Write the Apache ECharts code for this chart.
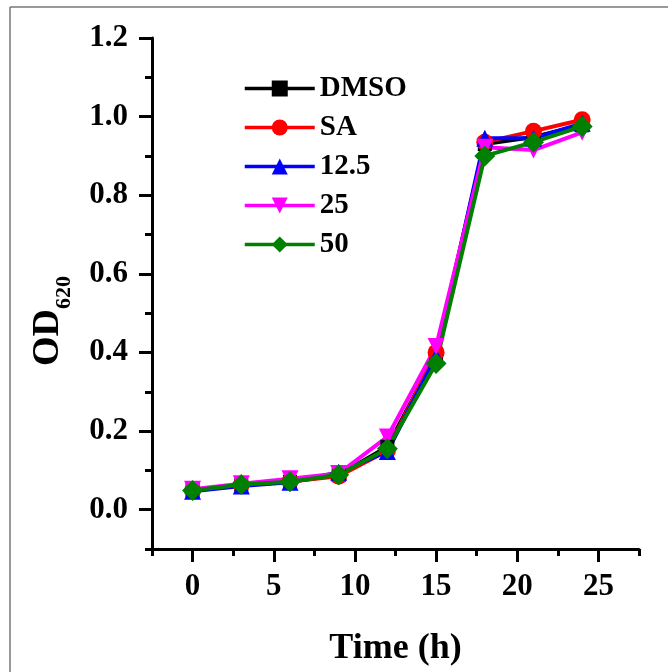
<!DOCTYPE html>
<html>
<head>
<meta charset="utf-8">
<script src="https://cdn.jsdelivr.net/npm/echarts@6/dist/echarts.min.js"></script>
<style>
  html, body { margin: 0; padding: 0; background: #fff; }
  #chart { width: 668px; height: 672px; }
</style>
</head>
<body>
<!--容器-->
<div id="chart"></div>
<script>
// 时间点 (h)
var hours = [0, 3, 6, 9, 12, 15, 18, 21, 24];
// 各组 OD620
var dmso = [0.050, 0.062, 0.071, 0.088, 0.160, 0.395, 0.930, 0.948, 0.978];
var sa = [0.049, 0.063, 0.072, 0.085, 0.150, 0.400, 0.935, 0.963, 0.992];
var c125 = [0.047, 0.060, 0.070, 0.095, 0.148, 0.390, 0.945, 0.945, 0.983];
var c25 = [0.052, 0.066, 0.079, 0.092, 0.185, 0.415, 0.922, 0.915, 0.960];
var c50 = [0.049, 0.064, 0.071, 0.089, 0.155, 0.372, 0.900, 0.935, 0.975];
var seriesNames = ["DMSO", "SA", "12.5", "25", "50"];
// 刻度
var xTicks = [0, 5, 10, 15, 20, 25];
var xMinorTicks = [-2.5, 2.5, 7.5, 12.5, 17.5, 22.5, 27.5];
var yTicks = [0, 0.2, 0.4, 0.6, 0.8, 1.0, 1.2];
var yMinorTicks = [-0.1, 0.1, 0.3, 0.5, 0.7, 0.9, 1.1];

var font = "Liberation Serif";
var myChart = echarts.init(document.getElementById("chart"));

function pairs(vals) {
  return hours.map(function (h, i) { return [h, vals[i]]; });
}

function lineSeries(name, vals, color, symbol, size, rotate) {
  return {
    name: name,
    type: "line",
    xAxisIndex: 0,
    yAxisIndex: 0,
    data: pairs(vals),
    symbol: symbol,
    symbolSize: size,
    symbolRotate: rotate || 0,
    showAllSymbol: true,
    itemStyle: { color: color },
    lineStyle: { color: color, width: 4 },
    emphasis: { disabled: true }
  };
}

var axisLineStyle = { color: "#000", width: 3 };

var option = {
  animation: false,
  backgroundColor: "#fff",
  grid: { left: 152, right: 29, top: 38, bottom: 122 },
  legend: {
    data: seriesNames,
    orient: "vertical",
    left: 243,
    top: 74,
    padding: 0,
    itemWidth: 70,
    itemHeight: 20,
    itemGap: 10,
    lineStyle: { width: 3.5 },
    textStyle: { fontFamily: font, fontWeight: "bold", fontSize: 29, lineHeight: 28, color: "#000" }
  },
  xAxis: [
    {
      type: "value",
      min: -2.5,
      max: 27.5,
      position: "bottom",
      name: "Time (h)",
      nameLocation: "middle",
      nameGap: 82,
      nameTextStyle: { fontFamily: font, fontWeight: "bold", fontSize: 36, color: "#000" },
      axisLine: { show: true, onZero: false, lineStyle: axisLineStyle },
      axisTick: { show: true, customValues: xTicks, length: 13, lineStyle: axisLineStyle },
      axisLabel: {
        customValues: xTicks,
        margin: 22,
        fontFamily: font, fontWeight: "bold", fontSize: 31, color: "#000"
      },
      splitLine: { show: false }
    },
    {
      type: "value",
      min: -2.5,
      max: 27.5,
      position: "bottom",
      axisLine: { show: false, onZero: false },
      axisTick: { show: true, customValues: xMinorTicks, length: 7, lineStyle: axisLineStyle },
      axisLabel: { show: false },
      splitLine: { show: false }
    }
  ],
  yAxis: [
    {
      type: "value",
      min: -0.1,
      max: 1.2,
      position: "left",
      axisLine: { show: true, onZero: false, lineStyle: axisLineStyle },
      axisTick: { show: true, customValues: yTicks, length: 13, lineStyle: axisLineStyle },
      axisLabel: {
        customValues: yTicks,
        margin: 24,
        formatter: function (v) { return v.toFixed(1); },
        fontFamily: font, fontWeight: "bold", fontSize: 31, color: "#000"
      },
      splitLine: { show: false }
    },
    {
      type: "value",
      min: -0.1,
      max: 1.2,
      position: "left",
      axisLine: { show: false, onZero: false },
      axisTick: { show: true, customValues: yMinorTicks, length: 7, lineStyle: axisLineStyle },
      axisLabel: { show: false },
      splitLine: { show: false }
    }
  ],
  graphic: [
    // 外框
    { type: "line", shape: { x1: 10, y1: 7, x2: 668, y2: 7 }, style: { stroke: "#777", lineWidth: 1.5 } },
    { type: "line", shape: { x1: 10, y1: 7, x2: 10, y2: 672 }, style: { stroke: "#777", lineWidth: 1.5 } },
    // y轴标题 OD620
    {
      type: "text",
      x: 52,
      y: 321,
      rotation: Math.PI / 2,
      style: {
        text: "{a|OD}{b|620}",
        align: "center",
        verticalAlign: "middle",
        rich: {
          a: { fontFamily: font, fontWeight: "bold", fontSize: 38, lineHeight: 38, verticalAlign: "top", fill: "#000" },
          b: { fontFamily: font, fontWeight: "bold", fontSize: 22, lineHeight: 46, verticalAlign: "bottom", fill: "#000" }
        }
      }
    }
  ],
  series: [
    lineSeries("DMSO", dmso, "#000000", "rect", 14),
    lineSeries("SA", sa, "#ff0000", "circle", 17),
    lineSeries("12.5", c125, "#0000ff", "triangle", 17),
    lineSeries("25", c25, "#ff00ff", "triangle", 17, 180),
    lineSeries("50", c50, "#008000", "diamond", 21)
  ]
};
myChart.setOption(option);
</script>
</body>
</html>
